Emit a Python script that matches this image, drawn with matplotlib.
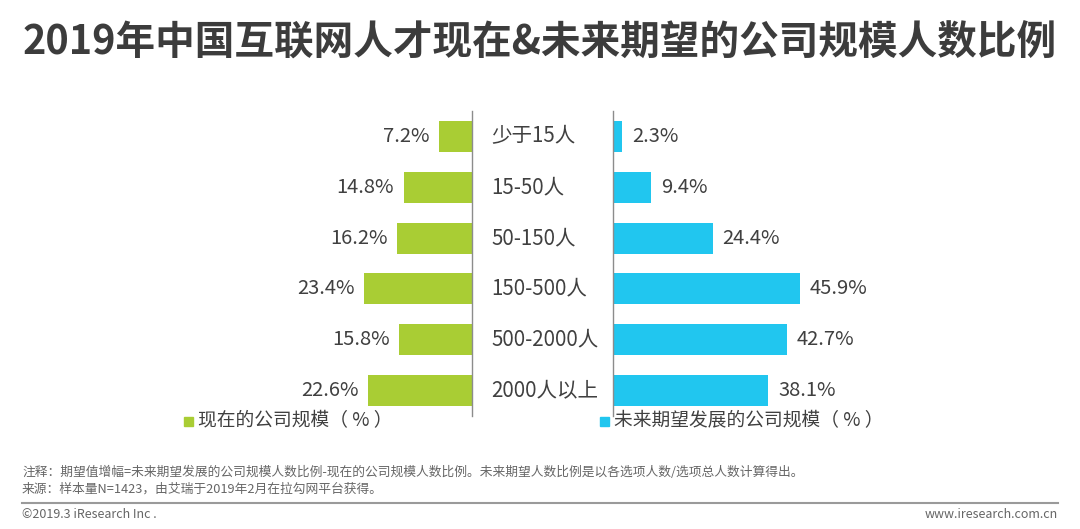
import matplotlib
matplotlib.use("Agg")
import matplotlib.pyplot as plt
from matplotlib.patches import Rectangle
from matplotlib.lines import Line2D
import matplotlib.transforms as mtrans

plt.rcParams['font.family'] = ['Noto Sans CJK SC', 'DejaVu Sans']

categories = ["少于15人", "15-50人", "50-150人", "150-500人", "500-2000人", "2000人以上"]
current = [7.2, 14.8, 16.2, 23.4, 15.8, 22.6]
future = [2.3, 9.4, 24.4, 45.9, 42.7, 38.1]
legend_current = "现在的公司规模（ % ）"
legend_future = "未来期望发展的公司规模（ % ）"
title = "2019年中国互联网人才现在&未来期望的公司规模人数比例"
note1 = "注释：期望值增幅=未来期望发展的公司规模人数比例-现在的公司规模人数比例。未来期望人数比例是以各选项人数/选项总人数计算得出。"
note2 = "来源：样本量N=1423，由艾瑞于2019年2月在拉勾网平台获得。"
footer_left = "©2019.3 iResearch Inc ."
footer_right = "www.iresearch.com.cn"

W, H = 1080, 529
GREEN = "#A9CD34"
BLUE = "#21C6EF"
TXT = "#404040"

fig = plt.figure(figsize=(W / 100, H / 100), dpi=100)
fig.patch.set_facecolor("white")

def fx(px):
    return px / W

def fy(py):
    return 1 - py / H

ax_top, ax_bot = 111, 416
axL = fig.add_axes([fx(200), fy(ax_bot), fx(472) - fx(200), (ax_bot - ax_top) / H])
axR = fig.add_axes([fx(613), fy(ax_bot), fx(1000) - fx(613), (ax_bot - ax_top) / H])

y = list(range(len(categories)))
bh = 0.61
axL.barh(y, current, height=bh, color=GREEN)
axR.barh(y, future, height=bh, color=BLUE)

axL.set_xlim(272 / 4.6, 0)
axR.set_xlim(0, 387 / 4.08)
for ax in (axL, axR):
    ax.set_ylim(5.5, -0.5)
    ax.set_xticks([])
    ax.set_yticks([])
    for s in ax.spines.values():
        s.set_visible(False)
    ax.patch.set_alpha(0)

axL.spines['right'].set_visible(True)
axL.spines['right'].set_color("#8c8c8c")
axL.spines['right'].set_linewidth(1.0)
axR.spines['left'].set_visible(True)
axR.spines['left'].set_color("#8c8c8c")
axR.spines['left'].set_linewidth(1.0)

for i, v in enumerate(current):
    axL.annotate(f"{v}%", (v, i), xytext=(-7, 0), textcoords="offset points",
                 ha="right", va="center", fontsize=14.5, color=TXT)
for i, v in enumerate(future):
    axR.annotate(f"{v}%", (v, i), xytext=(7, 0), textcoords="offset points",
                 ha="left", va="center", fontsize=14.5, color=TXT)

tr = mtrans.blended_transform_factory(fig.transFigure, axL.transData)
for i, c in enumerate(categories):
    fig.text(fx(491), i, c, transform=tr, ha="left", va="center", fontsize=14.8, color=TXT)

# title
fig.text(0.5, fy(43), title, ha="center", va="center", fontsize=28.5,
         fontweight="bold", color="#3c3c3c")

# legend
ly = 421
fig.patches.append(Rectangle((fx(184), fy(ly + 5)), 9 / W, 9 / H, transform=fig.transFigure,
                             color=GREEN, figure=fig))
fig.text(fx(198), fy(ly), legend_current, ha="left", va="center", fontsize=13.5, color=TXT)
fig.patches.append(Rectangle((fx(600), fy(ly + 5)), 9 / W, 9 / H, transform=fig.transFigure,
                             color=BLUE, figure=fig))
fig.text(fx(614), fy(ly), legend_future, ha="left", va="center", fontsize=13.5, color=TXT)

# notes
fig.text(fx(22), fy(472), note1, ha="left", va="center", fontsize=9.2, color="#666666")
fig.text(fx(22), fy(489), note2, ha="left", va="center", fontsize=9.2, color="#666666")
fig.lines.append(Line2D([fx(22), fx(1058)], [fy(503), fy(503)], transform=fig.transFigure,
                        color="#9a9a9a", linewidth=1.5))
fig.text(fx(22), fy(515), footer_left, ha="left", va="center", fontsize=9, color="#666666")
fig.text(fx(1058), fy(515), footer_right, ha="right", va="center", fontsize=9, color="#666666")

fig.savefig("out.png", dpi=100, facecolor="white")
